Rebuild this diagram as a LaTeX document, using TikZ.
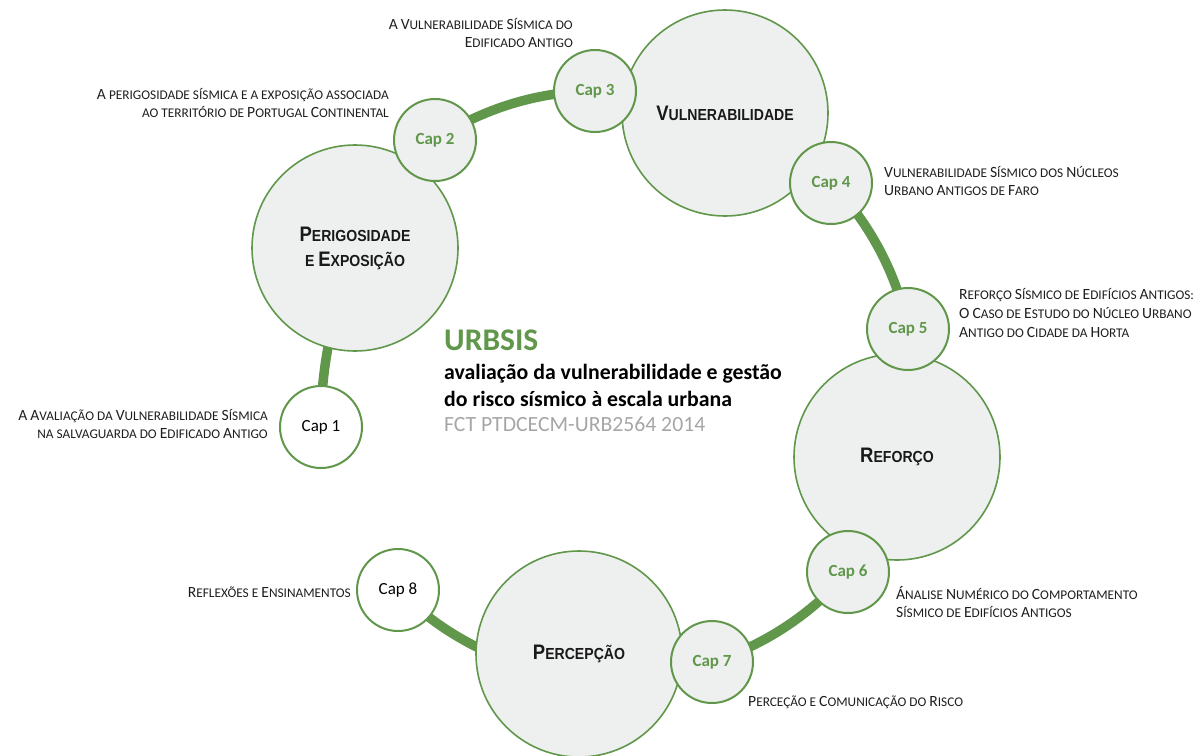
\documentclass[tikz,border=0pt]{standalone}
\usepackage{fontspec}
\setmainfont{Carlito}
\newfontfamily\arialfont{Liberation Sans}
\usepackage{graphicx}
\usetikzlibrary{backgrounds}
\definecolor{urbgreen}{RGB}{96,151,75}
\definecolor{urbfill}{RGB}{238,240,239}
\definecolor{desctext}{RGB}{30,30,30}
\definecolor{fctgray}{RGB}{166,166,166}
\newcommand\Dc[1]{{\fontsize{15.6}{18}\selectfont #1}}
\newcommand\Bc[1]{{\fontsize{21}{25}\selectfont #1}}
\newcommand\Nar[1]{\scalebox{0.88}[1]{#1}}
\begin{document}
\begin{tikzpicture}[x=1pt,y=-1pt,
  bigcirc/.style={circle, draw=urbgreen, line width=1.6pt, fill=urbfill, minimum size=206pt, inner sep=0pt, align=center, text=black!90,
    font=\arialfont\bfseries\fontsize{16}{25}\selectfont},
  capcirc/.style={circle, draw=urbgreen, line width=2pt, fill=urbfill, minimum size=82pt, inner sep=0pt,
    font=\bfseries\fontsize{17}{20}\selectfont, text=urbgreen},
  capwhite/.style={capcirc, fill=white, font=\fontsize{17}{20}\selectfont, text=black},
  desc/.style={font=\fontsize{13.3}{18}\selectfont, text=desctext, inner sep=0pt},
  link/.style={draw=urbgreen, line width=9.5pt},
]
\useasboundingbox (0,0) rectangle (1199,755);
% big circles
\node[bigcirc] (perig) at (355,248) {\Nar{\Bc{P}ERIGOSIDADE}\\\Nar{E \Bc{E}XPOSIÇÃO}};
\node[bigcirc] (vuln) at (725,113) {\Nar{\Bc{V}ULNERABILIDADE}};
\node[bigcirc] (refor) at (897,457) {\Nar{\Bc{R}EFORÇO}};
\node[bigcirc] (perc) at (579,654) {\Nar{\Bc{P}ERCEPÇÃO}};
% chapter circles
\node[capwhite] (c1) at (321,427) {Cap 1};
\node[capcirc] (c2) at (435,140) {Cap 2};
\node[capcirc] (c3) at (595,91) {Cap 3};
\node[capcirc] (c4) at (831,183) {Cap 4};
\node[capcirc] (c5) at (908,329) {Cap 5};
\node[capcirc] (c6) at (848,572) {Cap 6};
\node[capcirc] (c7) at (712,662) {Cap 7};
\node[capwhite] (c8) at (398,590) {Cap 8};
% ring
\begin{scope}[on background layer]
\draw[link] (c1.center) to[bend left=22, looseness=0.9] (c2.center)
  to[bend left=16.5, looseness=0.87] (c3.center)
  to[bend left=25.8, looseness=0.9] (c4.center)
  to[bend left=16.3, looseness=0.87] (c5.center)
  to[bend left=24.7, looseness=0.9] (c6.center)
  to[bend left=15.7, looseness=0.87] (c7.center)
  to[bend left=32.4, looseness=0.92] (c8.center);
\end{scope}
% descriptions
\node[desc, anchor=east, align=right] (d3) at (573,33) {\Dc{A} \Dc{V}ULNERABILIDADE \Dc{S}ÍSMICA DO\\\Dc{E}DIFICADO \Dc{A}NTIGO};
\node[desc, anchor=east, align=right] (d2) at (389,103) {\Dc{A} PERIGOSIDADE SÍSMICA E A EXPOSIÇÃO ASSOCIADA\\AO TERRITÓRIO DE \Dc{P}ORTUGAL \Dc{C}ONTINENTAL};
\node[desc, anchor=west, align=left] (d4) at (884,181) {\Dc{V}ULNERABILIDADE \Dc{S}ÍSMICO DOS \Dc{N}ÚCLEOS\\\Dc{U}RBANO \Dc{A}NTIGOS DE \Dc{F}ARO};
\node[desc, anchor=west, align=left, font=\fontsize{13.3}{19}\selectfont] (d5) at (959,313) {\Dc{R}EFORÇO \Dc{S}ÍSMICO DE \Dc{E}DIFÍCIOS \Dc{A}NTIGOS:\\\Dc{O} \Dc{C}ASO DE \Dc{E}STUDO DO \Dc{N}ÚCLEO \Dc{U}RBANO\\\Dc{A}NTIGO DO \Dc{C}IDADE DA \Dc{H}ORTA};
\node[desc, anchor=east, align=right] (d1) at (268,424) {\Dc{A} \Dc{A}VALIAÇÃO DA \Dc{V}ULNERABILIDADE \Dc{S}ÍSMICA\\NA SALVAGUARDA DO \Dc{E}DIFICADO \Dc{A}NTIGO};
\node[desc, anchor=east] (d8) at (351,592) {\Dc{R}EFLEXÕES E \Dc{E}NSINAMENTOS};
\node[desc, anchor=west, align=left] (d6) at (896,602) {\Dc{Á}NALISE \Dc{N}UMÉRICO DO \Dc{C}OMPORTAMENTO\\\Dc{S}ÍSMICO DE \Dc{E}DIFÍCIOS \Dc{A}NTIGOS};
\node[desc, anchor=west] (d7) at (748,702) {\Dc{P}ERCEÇÃO E \Dc{C}OMUNICAÇÃO DO \Dc{R}ISCO};
% centre title
\node[anchor=base west, inner sep=0pt, font=\bfseries\fontsize{31.5}{36}\selectfont, text=urbgreen] (title) at (444,350) {URBSIS};
\node[anchor=base west, inner sep=0pt, font=\bfseries\fontsize{21.8}{27}\selectfont] (sub1) at (444,379) {avaliação da vulnerabilidade e gestão};
\node[anchor=base west, inner sep=0pt, font=\bfseries\fontsize{21.8}{27}\selectfont] (sub2) at (444,406) {do risco sísmico à escala urbana};
\node[anchor=base west, inner sep=0pt, font=\fontsize{21.7}{25}\selectfont, text=fctgray] (fct) at (444,431) {FCT PTDCECM-URB2564 2014};
\end{tikzpicture}
\end{document}
